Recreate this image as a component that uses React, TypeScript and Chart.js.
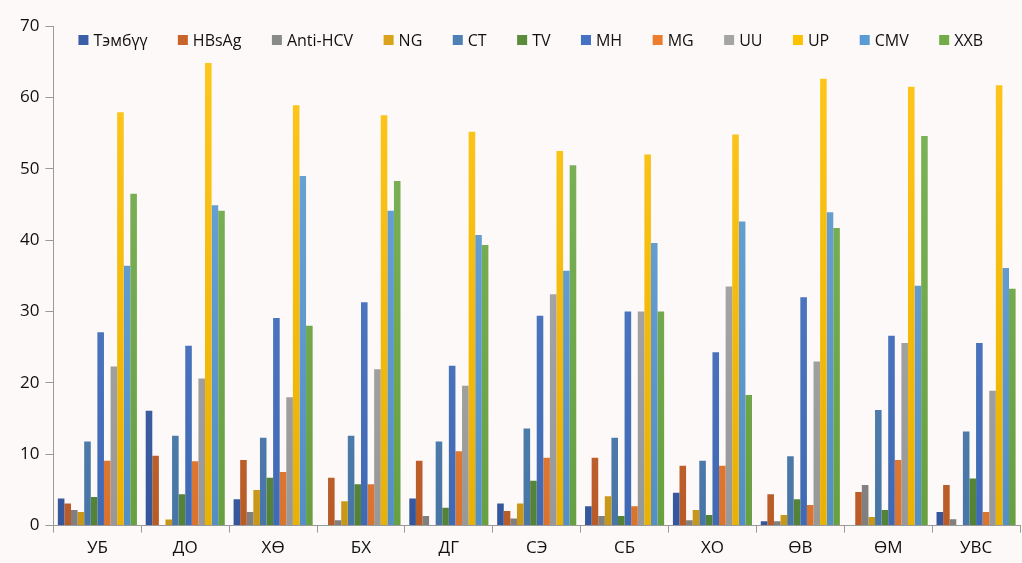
import React, { useEffect, useRef } from "react";
import { Chart, registerables } from "chart.js";

Chart.register(...registerables);

const categories = ["УБ", "ДО", "ХӨ", "БХ", "ДГ", "СЭ", "СБ", "ХО", "ӨВ", "ӨМ", "УВС"];

const tembuu = [3.8, 16.1, 3.7, 0, 3.8, 3.1, 2.7, 4.6, 0.6, 0, 1.9];
const hbsag = [3.1, 9.8, 9.2, 6.7, 9.1, 2.05, 9.5, 8.4, 4.4, 4.7, 5.7];
const antiHcv = [2.2, 0, 1.9, 0.75, 1.35, 1.0, 1.35, 0.75, 0.6, 5.7, 0.9];
const ng = [1.9, 0.85, 5.0, 3.4, 0, 3.1, 4.1, 2.2, 1.5, 1.2, 0];
const ct = [11.8, 12.6, 12.3, 12.6, 11.8, 13.6, 12.3, 9.1, 9.7, 16.2, 13.2];
const tv = [4.0, 4.4, 6.7, 5.8, 2.5, 6.3, 1.35, 1.5, 3.7, 2.2, 6.6];
const mh = [27.1, 25.2, 29.1, 31.3, 22.4, 29.4, 30.0, 24.3, 32.0, 26.6, 25.6];
const mg = [9.1, 9.0, 7.5, 5.8, 10.4, 9.5, 2.7, 8.4, 2.9, 9.2, 1.9];
const uu = [22.3, 20.6, 18.0, 21.9, 19.6, 32.4, 30.0, 33.5, 23.0, 25.6, 18.9];
const up = [57.9, 64.8, 58.9, 57.5, 55.2, 52.5, 52.0, 54.8, 62.6, 61.5, 61.7];
const cmv = [36.4, 44.9, 49.0, 44.1, 40.7, 35.7, 39.6, 42.6, 43.9, 33.6, 36.1];
const xxb = [46.5, 44.1, 28.0, 48.3, 39.3, 50.5, 30.0, 18.3, 41.7, 54.6, 33.2];

const seriesNames = ["Тэмбүү", "HBsAg", "Anti-HCV", "NG", "CT", "TV", "MH", "MG", "UU", "UP", "CMV", "XXB"];
const seriesValues = [tembuu, hbsag, antiHcv, ng, ct, tv, mh, mg, uu, up, cmv, xxb];
const seriesColors = [
  "#3a5ea8", "#c9632a", "#8a8a8a", "#d9a41a", "#4d80b4", "#5a8c3a",
  "#4472c4", "#ed7d31", "#a5a5a5", "#ffc000", "#5b9bd5", "#70ad47",
];

const FONT = "'Open Sans', 'Noto Sans', sans-serif";

function shade(hex: string, amt: number) {
  const n = parseInt(hex.slice(1), 16);
  let r = (n >> 16) & 255, g = (n >> 8) & 255, b = n & 255;
  const f = (c: number) => Math.max(0, Math.min(255, Math.round(amt >= 0 ? c + (255 - c) * amt : c * (1 + amt))));
  r = f(r); g = f(g); b = f(b);
  return `rgb(${r},${g},${b})`;
}

// Legend drawn inside the plot area, in one row
const inlineLegend = {
  id: "inlineLegend",
  afterDatasetsDraw(chart: any) {
    const { ctx, chartArea } = chart;
    const box = 10, gapText = 5;
    const left = chartArea.left + 25;
    const right = chartArea.right - 37;
    const y = chartArea.top + 14;
    ctx.save();
    ctx.font = `16px ${FONT}`;
    const widths = seriesNames.map((n) => ctx.measureText(n).width);
    const total = widths.reduce((a, w) => a + box + gapText + w, 0);
    const gap = (right - left - total) / (seriesNames.length - 1);
    let x = left;
    ctx.textBaseline = "middle";
    ctx.textAlign = "left";
    seriesNames.forEach((n, i) => {
      ctx.fillStyle = seriesColors[i];
      ctx.fillRect(x, y - box / 2, box, box);
      ctx.fillStyle = "#111";
      ctx.fillText(n, x + box + gapText, y + 1);
      x += box + gapText + widths[i] + gap;
    });
    ctx.restore();
  },
};

export default function App() {
  const ref = useRef<HTMLCanvasElement>(null);
  useEffect(() => {
    if (!ref.current) return;
    const chart = new Chart(ref.current, {
      type: "bar",
      data: {
        labels: categories,
        datasets: seriesNames.map((name, i) => ({
          label: name,
          data: seriesValues[i],
          backgroundColor: (ctx: any) => {
            const c = ctx.chart;
            const area = c.chartArea;
            if (!area) return seriesColors[i];
            const g = c.ctx.createLinearGradient(0, area.top, 0, area.bottom);
            g.addColorStop(0, shade(seriesColors[i], 0.12));
            g.addColorStop(1, shade(seriesColors[i], -0.08));
            return g;
          },
          borderWidth: 0,
          barPercentage: 1,
          categoryPercentage: 0.9,
        })),
      },
      options: {
        animation: false,
        responsive: true,
        maintainAspectRatio: false,
        layout: { padding: { left: 14, right: 2, top: 26, bottom: 0 } },
        plugins: {
          tooltip: { enabled: false },
          legend: { display: false },
        },
        scales: {
          x: {
            grid: {
              display: true,
              drawOnChartArea: false,
              offset: true,
              tickLength: 7,
              color: "#9a9a9a",
            },
            border: { color: "#9a9a9a" },
            ticks: { color: "#111", font: { family: FONT, size: 17 }, padding: 5 },
          },
          y: {
            min: 0,
            max: 70,
            ticks: { stepSize: 10, color: "#111", font: { family: FONT, size: 17 }, padding: 6 },
            grid: { display: true, drawOnChartArea: false, tickLength: 8, color: "#9a9a9a" },
            border: { color: "#9a9a9a" },
          },
        },
      },
      plugins: [inlineLegend],
    } as any);
    return () => chart.destroy();
  }, []);
  return (
    <div style={{ position: "fixed", inset: 0, background: "#fef9f9" }}>
      <canvas ref={ref} />
    </div>
  );
}
